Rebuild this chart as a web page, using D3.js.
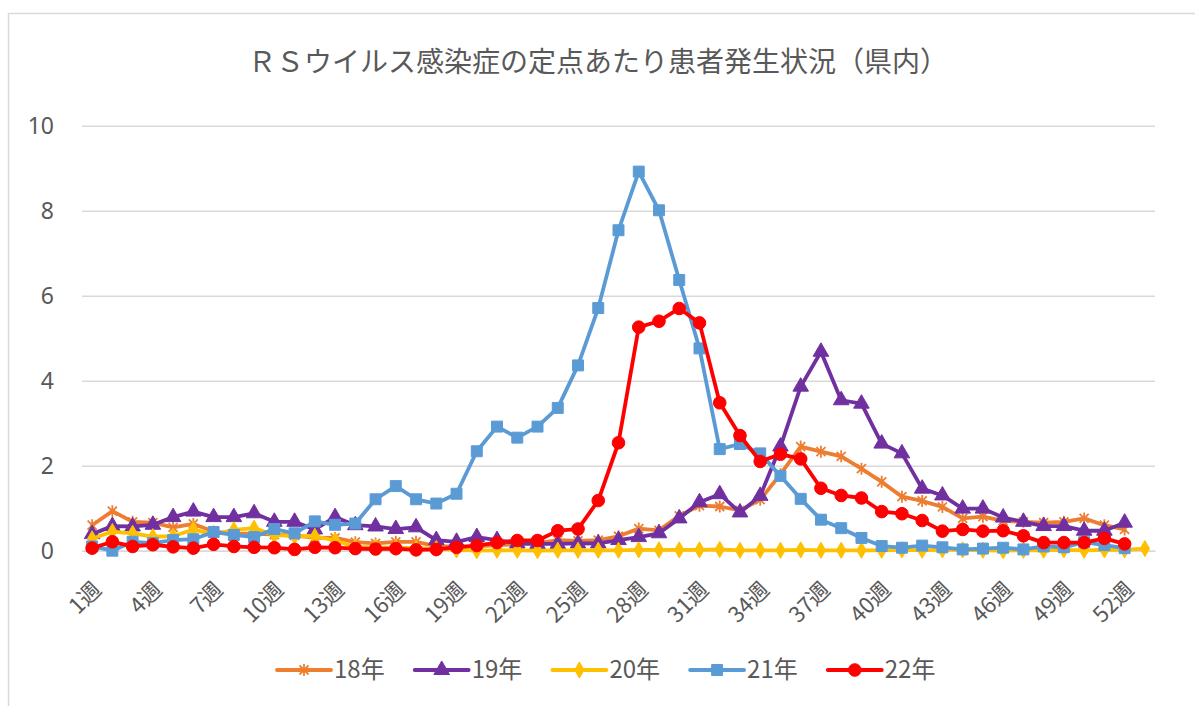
<!DOCTYPE html>
<html>
<head>
<meta charset="utf-8">
<script src="https://cdn.jsdelivr.net/npm/d3@7"></script>
<style>
  body { margin: 0; background: #fff; }
  svg text { font-family: "Noto Sans CJK JP", "Noto Sans", sans-serif; fill: #595959; }
</style>
</head>
<body>
<div id="chart"></div>
<script>
// weeks 1..53
const weeks = d3.range(1, 54);
const tickWeeks = [1, 4, 7, 10, 13, 16, 19, 22, 25, 28, 31, 34, 37, 40, 43, 46, 49, 52];
const yTicks = [0, 2, 4, 6, 8, 10];

const y18 = [0.6, 0.93, 0.68, 0.66, 0.55, 0.63, 0.45, 0.4, 0.4, 0.38, 0.36, 0.3, 0.3, 0.2, 0.17, 0.21, 0.21, 0.11, 0.1, 0.1,
  0.13, 0.15, 0.17, 0.25, 0.23, 0.25, 0.34, 0.52, 0.48, 0.82, 1.06, 1.04, 0.95, 1.2, 1.8, 2.45, 2.33, 2.22, 1.93, 1.62,
  1.27, 1.17, 1.03, 0.76, 0.8, 0.7, 0.68, 0.66, 0.68, 0.76, 0.6, 0.5];
const y19 = [0.39, 0.58, 0.57, 0.61, 0.79, 0.92, 0.79, 0.79, 0.88, 0.68, 0.68, 0.5, 0.79, 0.6, 0.57, 0.51, 0.55, 0.25, 0.21, 0.32,
  0.25, 0.17, 0.16, 0.16, 0.17, 0.17, 0.25, 0.32, 0.41, 0.76, 1.14, 1.33, 0.9, 1.29, 2.45, 3.86, 4.68, 3.54, 3.46, 2.52,
  2.29, 1.46, 1.3, 0.99, 0.99, 0.78, 0.68, 0.58, 0.58, 0.47, 0.47, 0.66];
const y20 = [0.28, 0.45, 0.41, 0.33, 0.34, 0.5, 0.38, 0.49, 0.53, 0.37, 0.34, 0.34, 0.24, 0.09, 0.08, 0.07, 0.06, 0.05, 0.02, 0.0,
  0.01, 0.01, 0.0, 0.01, 0.01, 0.01, 0.01, 0.02, 0.02, 0.02, 0.02, 0.03, 0.01, 0.01, 0.01, 0.02, 0.01, 0.01, 0.01, 0.01,
  0.02, 0.01, 0.02, 0.02, 0.01, 0.0, 0.01, 0.01, 0.02, 0.01, 0.02, 0.02, 0.05];
const y21 = [0.1, 0.0, 0.21, 0.18, 0.25, 0.27, 0.44, 0.37, 0.32, 0.51, 0.41, 0.69, 0.61, 0.64, 1.21, 1.52, 1.21, 1.11, 1.34, 2.34,
  2.92, 2.66, 2.92, 3.36, 4.36, 5.71, 7.54, 8.92, 8.01, 6.37, 4.76, 2.39, 2.51, 2.29, 1.76, 1.22, 0.73, 0.53, 0.3, 0.11,
  0.07, 0.12, 0.08, 0.03, 0.05, 0.07, 0.03, 0.1, 0.08, 0.2, 0.13, 0.06];
const y22 = [0.06, 0.21, 0.1, 0.14, 0.09, 0.06, 0.15, 0.1, 0.08, 0.07, 0.03, 0.08, 0.07, 0.05, 0.04, 0.05, 0.02, 0.03, 0.08, 0.12,
  0.19, 0.24, 0.24, 0.47, 0.51, 1.18, 2.54, 5.26, 5.4, 5.7, 5.36, 3.48, 2.71, 2.1, 2.27, 2.16, 1.47, 1.3, 1.24, 0.92,
  0.87, 0.71, 0.46, 0.5, 0.46, 0.47, 0.35, 0.19, 0.19, 0.19, 0.29, 0.16];

const seriesNames = ['18年', '19年', '20年', '21年', '22年'];
const seriesValues = [y18, y19, y20, y21, y22];
const colors = ['#ED7D31', '#7030A0', '#FFC000', '#5B9BD5', '#FF0000'];
const markers = ['star', 'triangle', 'diamond', 'square', 'circle'];

const width = 1195, height = 706;
const plot = {left: 82, right: 1155, top: 125.7, bottom: 550.7};

const svg = d3.select('#chart').append('svg')
    .attr('width', width)
    .attr('height', height);

// outer chart border
svg.append('rect')
    .attr('x', 8.5).attr('y', 13.5)
    .attr('width', 1200).attr('height', 720)
    .attr('fill', '#fff')
    .attr('stroke', '#D9D9D9')
    .attr('stroke-width', 1.5);

svg.append('text')
    .attr('x', 598)
    .attr('y', 72)
    .attr('text-anchor', 'middle')
    .attr('font-size', 28)
    .text('ＲＳウイルス感染症の定点あたり患者発生状況（県内）');

const x = d3.scaleBand().domain(weeks).range([plot.left, plot.right]);
const xc = w => x(w) + x.bandwidth() / 2;
const y = d3.scaleLinear().domain([0, 10]).range([plot.bottom, plot.top]);

// y grid + labels
const yAxis = svg.append('g')
    .attr('transform', `translate(${plot.left},0)`)
    .call(d3.axisLeft(y).tickValues(yTicks).tickSize(-(plot.right - plot.left)).tickPadding(28));
yAxis.select('.domain').remove();
yAxis.selectAll('line').attr('stroke', '#D9D9D9').attr('stroke-width', 1.5);
yAxis.selectAll('text').attr('font-size', 23).attr('fill', '#595959')
    .style('font-family', '"Noto Sans", sans-serif');

// x axis
const xAxis = svg.append('g')
    .attr('transform', `translate(0,${plot.bottom})`)
    .call(d3.axisBottom(x).tickValues(tickWeeks).tickFormat(d => d + '週').tickSize(0));
xAxis.select('.domain').attr('stroke', '#D9D9D9').attr('stroke-width', 1.5);
xAxis.selectAll('text')
    .attr('font-size', 22)
    .attr('text-anchor', 'end')
    .attr('y', 0)
    .attr('dy', '0.35em')
    .attr('transform', 'translate(5,35) rotate(-45)');

function markerPath(type) {
    if (type === 'star') {
        const r = 6;
        const a = r * 0.75;
        return `M0,${-r}L0,${r}M${-a},${-a}L${a},${a}M${-a},${a}L${a},${-a}`;
    }
    const sym = {triangle: d3.symbolTriangle, diamond: d3.symbolDiamond, square: d3.symbolSquare, circle: d3.symbolCircle}[type];
    const size = {triangle: 105, diamond: 75, square: 120, circle: 125}[type];
    return d3.symbol().type(sym).size(size)();
}

function drawMarker(g, type, color) {
    if (type === 'star') {
        g.append('path').attr('d', markerPath('star'))
            .attr('fill', 'none').attr('stroke', color).attr('stroke-width', 1.8);
    } else {
        g.append('path').attr('d', markerPath(type))
            .attr('fill', color).attr('stroke', color).attr('stroke-width', 1);
    }
}

const line = d3.line().x((d, i) => xc(weeks[i])).y(d => y(d));

seriesValues.forEach((vals, k) => {
    const g = svg.append('g');
    g.append('path')
        .datum(vals)
        .attr('d', line)
        .attr('fill', 'none')
        .attr('stroke', colors[k])
        .attr('stroke-width', 3.8)
        .attr('stroke-linejoin', 'round')
        .attr('stroke-linecap', 'round');
    g.selectAll('g.m')
        .data(vals)
        .enter()
        .append('g')
        .attr('class', 'm')
        .attr('transform', (d, i) => `translate(${xc(weeks[i])},${y(d)})`)
        .each(function() { drawMarker(d3.select(this), markers[k], colors[k]); });
});

// legend
const legend = svg.append('g').attr('transform', 'translate(277,670)');
seriesNames.forEach((name, k) => {
    const item = legend.append('g').attr('transform', `translate(${k * 137.7},0)`);
    item.append('line')
        .attr('x1', 0).attr('x2', 54)
        .attr('stroke', colors[k]).attr('stroke-width', 3.8).attr('stroke-linecap', 'round');
    const m = item.append('g').attr('transform', 'translate(27,0)');
    drawMarker(m, markers[k], colors[k]);
    item.append('text')
        .attr('x', 57)
        .attr('dy', '0.35em')
        .attr('font-size', 24)
        .text(name);
});
</script>
</body>
</html>
